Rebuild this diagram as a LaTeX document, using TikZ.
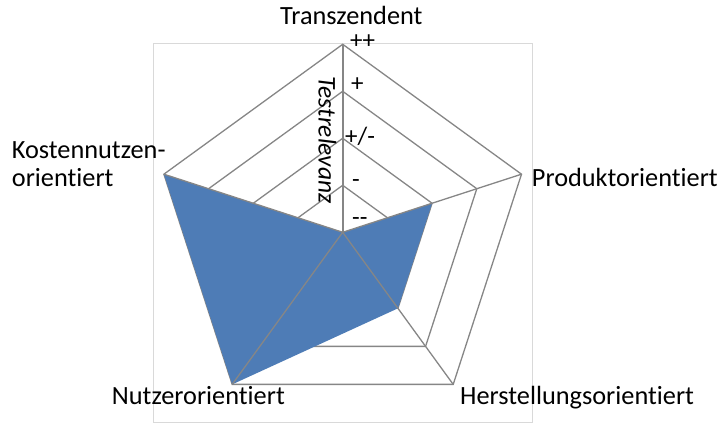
\documentclass[tikz,border=0pt]{standalone}
\usepackage{fontspec}
\setmainfont{Carlito}[Ligatures={NoCommon}]
\usetikzlibrary{calc}
\definecolor{serieblue}{RGB}{78,124,182}
\definecolor{gridgray}{RGB}{134,134,134}
\definecolor{framegray}{RGB}{217,217,217}
\begin{document}
\begin{tikzpicture}[x=1pt,y=1pt,
  ring/.style={draw=gridgray,line width=1.3pt},
  spoke/.style={draw=gridgray,line width=1.3pt},
  catlabel/.style={inner sep=0pt,anchor=base west,font=\fontsize{26.3}{28}\selectfont},
  ticklabel/.style={inner sep=0pt,anchor=west,font=\fontsize{25}{28}\selectfont}]
\useasboundingbox (0,0) rectangle (726,428);
% plot frame
\draw[framegray,line width=0.8pt] (153.3,5.7) rectangle (532.3,384.7);
\coordinate (C) at (342.7,195.7);
% rings
\foreach \r in {47,94,141,188}{
  \draw[ring] ($(C)+(90:\r)$) -- ($(C)+(18:\r)$) -- ($(C)+(-54:\r)$) -- ($(C)+(-126:\r)$) -- ($(C)+(162:\r)$) -- cycle;
}
% outer vertices
\coordinate (T) at ($(C)+(90:188)$);
\coordinate (P) at ($(C)+(18:188)$);
\coordinate (H) at ($(C)+(-54:188)$);
\coordinate (N) at ($(C)+(-126:188)$);
\coordinate (K) at ($(C)+(162:188)$);
% data
\coordinate (dP) at ($(C)+(18:94)$);
\coordinate (dH) at ($(C)+(-54:94)$);
\fill[serieblue] (C) -- (dP) -- (dH) -- (N) -- (K) -- cycle;
% spokes
\foreach \v in {P,H,N,K}{ \draw[spoke] (C) -- (\v); }
\draw[spoke,line width=1.6pt] (C) -- (T);
% tick labels
\node[ticklabel] (t4) at (350,386) {+\kern0pt+};
\node[ticklabel] (t3) at (351,343) {+};
\node[ticklabel] (t2) at (345,292) {+/-};
\node[ticklabel] (t1) at (352,244) {-};
\node[ticklabel] (t0) at (352,206) {-\kern0pt-};
% axis title
\node[inner sep=0pt,rotate=-90,font=\fontsize{25.5}{28}\selectfont\itshape] (axt) at (327.5,288) {Testrelevanz};
% category labels
\node[catlabel] (lT) at (280,403) {Transzendent};
\node[catlabel] (lP) at (531.7,241.3) {Produktorientiert};
\node[catlabel] (lH) at (460,23) {Herstellungsorientiert};
\node[catlabel] (lN) at (111.7,23) {Nutzerorientiert};
\node[catlabel] (lK1) at (11.7,269.7) {Kostennutzen-};
\node[catlabel] (lK2) at (11.7,241.3) {orientiert};
\end{tikzpicture}
\end{document}
